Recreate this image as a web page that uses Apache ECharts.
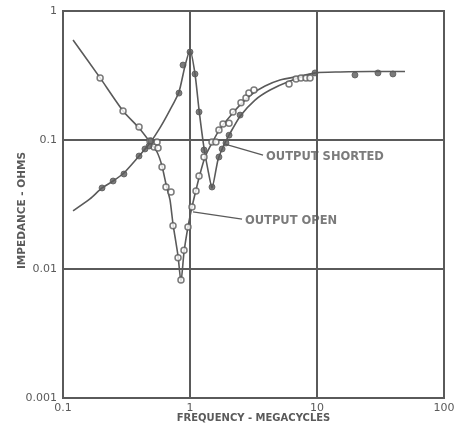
<!DOCTYPE html>
<html>
<head>
<meta charset="utf-8">
<script src="https://cdn.jsdelivr.net/npm/echarts@6/dist/echarts.min.js"></script>
<style>
html,body{margin:0;padding:0;background:#fff;}
#c{width:459px;height:427px;}
</style>
</head>
<body>
<div id="c"></div>
<script>
// Frequency (MHz) tick labels and impedance (ohms) tick labels
const xTickLabels = ['0.1', '1', '10', '100'];
const yTickLabels = ['0.001', '0.01', '0.1', '1'];

// Output open: measured points (hollow circles) [MHz, ohms]
const openPoints = [
  [0.196, 0.303], [0.297, 0.168], [0.397, 0.126],
  [0.484, 0.0983], [0.521, 0.0883], [0.550, 0.0965], [0.560, 0.0867],
  [0.602, 0.0618], [0.647, 0.0432], [0.709, 0.0395], [0.735, 0.0216],
  [0.805, 0.0122], [0.849, 0.00822], [0.897, 0.0140], [0.964, 0.0212],
  [1.037, 0.0303], [1.115, 0.0402], [1.178, 0.0526], [1.289, 0.0738],
  [1.49, 0.0965], [1.60, 0.0965], [1.69, 0.1196], [1.82, 0.133],
  [2.03, 0.135], [2.18, 0.165], [2.52, 0.194], [2.76, 0.212],
  [2.91, 0.231], [3.19, 0.244], [6.02, 0.272], [6.84, 0.297],
  [7.48, 0.303], [8.19, 0.303], [8.81, 0.303]
];
// Output open: drawn curve
const openCurve = [
  [0.120, 0.596], [0.196, 0.303], [0.297, 0.168], [0.397, 0.124],
  [0.484, 0.0965], [0.550, 0.0807], [0.602, 0.0629], [0.647, 0.0456],
  [0.696, 0.0343], [0.735, 0.0223], [0.805, 0.0126], [0.849, 0.00792],
  [0.897, 0.0135], [0.964, 0.0212], [1.037, 0.0303], [1.115, 0.0410],
  [1.199, 0.0545], [1.313, 0.0738], [1.49, 0.0948], [1.72, 0.122],
  [2.07, 0.153], [2.48, 0.187], [3.08, 0.227], [3.90, 0.262],
  [5.11, 0.292], [7.35, 0.313], [9.64, 0.331]
];

// Output shorted: measured points (filled circles)
const shortPoints = [
  [0.203, 0.0425], [0.248, 0.0481], [0.302, 0.0545], [0.397, 0.0751],
  [0.442, 0.0852], [0.476, 0.0898], [0.493, 0.0983], [0.819, 0.231],
  [0.881, 0.381], [1.0, 0.481], [1.095, 0.325], [1.178, 0.165],
  [1.289, 0.0837], [1.49, 0.0432], [1.69, 0.0738], [1.79, 0.0852],
  [1.92, 0.0948], [2.03, 0.109], [2.48, 0.156], [9.64, 0.331],
  [19.9, 0.319], [30.2, 0.331], [39.6, 0.325]
];
// Output shorted: drawn curve
const shortCurve = [
  [0.120, 0.0282], [0.163, 0.0349], [0.203, 0.0425], [0.248, 0.0481],
  [0.302, 0.0555], [0.397, 0.0751], [0.484, 0.0948], [0.580, 0.124],
  [0.696, 0.171], [0.819, 0.236], [0.913, 0.375], [1.0, 0.499],
  [1.095, 0.325], [1.178, 0.171], [1.289, 0.0867], [1.386, 0.0585],
  [1.49, 0.0425], [1.66, 0.070], [1.85, 0.0915], [2.07, 0.113],
  [2.48, 0.153], [3.25, 0.204], [4.27, 0.244], [6.13, 0.287],
  [9.64, 0.331], [15.2, 0.337], [26.1, 0.340], [49.3, 0.340]
];

// Annotation leader lines and texts
const shortLeader = [[1.89, 0.0931], [3.76, 0.0765]];
const openLeader = [[1.056, 0.0277], [2.57, 0.0244]];
const annotations = [
  { value: [3.97, 0.0738], name: 'OUTPUT SHORTED' },
  { value: [2.71, 0.0236], name: 'OUTPUT OPEN' }
];

const INK = '#5a5a5a';
const chart = echarts.init(document.getElementById('c'), null, { renderer: 'canvas' });

function tickFmt(labels, offset) {
  return function (v) {
    const i = Math.round(Math.log10(v)) + offset;
    return labels[i] !== undefined ? labels[i] : '';
  };
}

chart.setOption({
  backgroundColor: '#fff',
  animation: false,
  grid: { left: 63, right: 15, top: 11, bottom: 29, show: true, borderColor: INK, borderWidth: 2,
          containLabel: false, outerBoundsMode: 'none' },
  xAxis: {
    type: 'log', logBase: 10, min: 0.1, max: 100,
    name: 'FREQUENCY - MEGACYCLES', nameLocation: 'middle', nameGap: 15, nameMoveOverlap: false,
    nameTextStyle: { color: INK, fontFamily: 'DejaVu Sans', fontWeight: 'bold', fontSize: 10 },
    axisLine: { show: true, lineStyle: { color: INK, width: 2 } },
    axisTick: { show: false },
    axisLabel: { color: INK, fontFamily: 'DejaVu Sans', fontSize: 11, margin: 5, formatter: tickFmt(xTickLabels, 1) },
    splitLine: { show: true, lineStyle: { color: INK, width: 2 } },
    minorSplitLine: { show: false }
  },
  yAxis: {
    type: 'log', logBase: 10, min: 0.001, max: 1,
    name: 'IMPEDANCE - OHMS', nameLocation: 'middle', nameGap: 35, nameRotate: 90, nameMoveOverlap: false,
    nameTextStyle: { color: INK, fontFamily: 'DejaVu Sans', fontWeight: 'bold', fontSize: 10.5, padding: [0, 12, 0, 0] },
    axisLine: { show: true, lineStyle: { color: INK, width: 2 } },
    axisTick: { show: false },
    axisLabel: { color: INK, fontFamily: 'DejaVu Sans', fontSize: 11, margin: 6, formatter: tickFmt(yTickLabels, 3) },
    splitLine: { show: true, lineStyle: { color: INK, width: 2 } }
  },
  series: [
    { name: 'open curve', type: 'line', data: openCurve, smooth: 0.2, showSymbol: false,
      lineStyle: { color: INK, width: 1.6 }, z: 2 },
    { name: 'short curve', type: 'line', data: shortCurve, smooth: 0.2, showSymbol: false,
      lineStyle: { color: INK, width: 1.6 }, z: 2 },
    { name: 'Output open', type: 'scatter', data: openPoints, symbol: 'circle', symbolSize: 6,
      itemStyle: { color: '#fff', borderColor: INK, borderWidth: 1.5 }, z: 3 },
    { name: 'Output shorted', type: 'scatter', data: shortPoints, symbol: 'circle', symbolSize: 6,
      itemStyle: { color: INK, borderColor: INK, borderWidth: 1 }, z: 4 },
    { type: 'line', data: shortLeader, showSymbol: false, lineStyle: { color: INK, width: 1.3 }, z: 2 },
    { type: 'line', data: openLeader, showSymbol: false, lineStyle: { color: INK, width: 1.3 }, z: 2 },
    { type: 'scatter', data: annotations, symbolSize: 0, z: 5,
      label: { show: true, position: 'right', distance: 0, formatter: '{b}', color: INK,
               fontFamily: 'DejaVu Sans', fontSize: 11.5, fontWeight: 'bold' } }
  ]
});
</script>
</body>
</html>
